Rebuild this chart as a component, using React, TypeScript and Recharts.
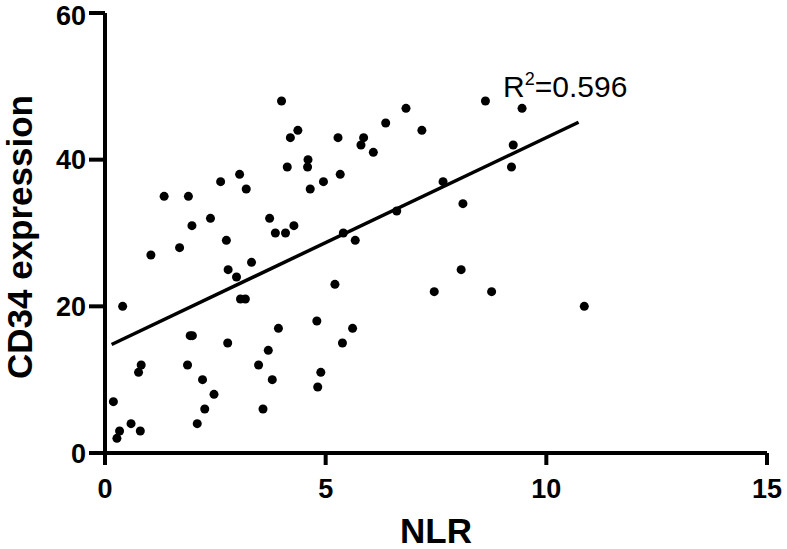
import { ScatterChart, Scatter, XAxis, YAxis, ZAxis, ReferenceLine, ReferenceDot } from 'recharts';

const nlr = [
  2.98, 3.07, 3.18, 0.4, 5.21, 4.8, 3.93, 5.38, 1.93, 1.98, 2.78, 3.7, 0.82, 0.76, 1.87, 3.48, 2.21, 3.79, 4.89, 4.82,
  2.47, 0.19, 2.26, 3.58, 0.59, 2.09, 0.33, 0.8, 0.27,
  4.0, 4.2, 4.37, 5.28, 4.6, 4.59, 4.13, 5.33, 4.95, 4.65, 3.05, 2.62, 3.2, 1.34, 1.89, 2.39, 1.97, 3.73, 3.86, 4.09,
  4.28, 2.75, 1.69, 1.04, 3.32, 2.79, 5.4,
  6.82, 6.36, 5.86, 5.8, 6.08, 7.18, 8.62, 9.45, 9.25, 9.21, 7.66, 8.11, 6.61, 5.67, 8.07, 7.46, 8.76, 10.86, 5.61,
];

const cd34 = [
  24, 21, 21, 20, 23, 18, 17, 15, 16, 16, 15, 14, 12, 11, 12, 12, 10, 10, 11, 9,
  8, 7, 6, 6, 4, 4, 3, 3, 2,
  48, 43, 44, 43, 40, 39, 39, 38, 37, 36, 38, 37, 36, 35, 35, 32, 31, 32, 30, 30,
  31, 29, 28, 27, 26, 25, 30,
  47, 45, 43, 42, 41, 44, 48, 47, 42, 39, 37, 34, 33, 29, 25, 22, 22, 20, 17,
];

const xTicks = [0, 5, 10, 15];
const yTicks = [0, 20, 40, 60];

// fitted line end points
const fitLine = [
  { x: 0.15, y: 14.8 },
  { x: 10.73, y: 45.1 },
];
const r2Label = { x: 9.02, y: 48.5, text: '0.596' };

const points = nlr.map((x, i) => ({ x, y: cd34[i] }));

const font = 'Arial, "Liberation Sans", Helvetica, sans-serif';
const tickStyle = { fill: '#000', fontSize: 27, fontWeight: 'bold', fontFamily: font };

const YTitle = ({ viewBox }: any) => {
  const cx = viewBox.x + 32;
  const cy = viewBox.y + viewBox.height / 2 + 4;
  return (
    <text
      x={cx}
      y={cy}
      transform={`rotate(-90, ${cx}, ${cy})`}
      textAnchor="middle"
      fontFamily={font}
      fontWeight="bold"
      fontSize={35}
      fill="#000"
    >
      CD34 expression
    </text>
  );
};

const R2 = ({ viewBox }: any) => (
  <text x={viewBox.x} y={viewBox.y} fontFamily={font} fontSize={30} fill="#000">
    R
    <tspan dy={-12} fontSize={18}>2</tspan>
    <tspan dy={12}>={r2Label.text}</tspan>
  </text>
);

export default function App() {
  return (
    <div style={{ position: 'absolute', left: 0, top: 0, width: 787, height: 549, background: '#fff' }}>
      <ScatterChart width={787} height={549} margin={{ top: 13, right: 20, bottom: 0, left: 0 }}>
        <XAxis
          type="number"
          dataKey="x"
          domain={[0, 15]}
          ticks={xTicks}
          height={96}
          stroke="#000"
          strokeWidth={4}
          tickSize={12}
          tickMargin={14}
          tick={tickStyle}
          label={{ value: 'NLR', position: 'insideBottom', offset: 6, fill: '#000', fontSize: 35, fontWeight: 'bold', fontFamily: font }}
        />
        <YAxis
          type="number"
          dataKey="y"
          domain={[0, 60]}
          ticks={yTicks}
          width={105}
          stroke="#000"
          strokeWidth={4}
          tickSize={16}
          tickMargin={3}
          tick={tickStyle}
          label={<YTitle />}
        />
        <ZAxis range={[90, 90]} />
        <ReferenceLine segment={fitLine} stroke="#000" strokeWidth={3.5} />
        <ReferenceDot x={r2Label.x} y={r2Label.y} r={0} fill="none" stroke="none" label={<R2 />} />
        <Scatter data={points} fill="#000" isAnimationActive={false} />
      </ScatterChart>
    </div>
  );
}
